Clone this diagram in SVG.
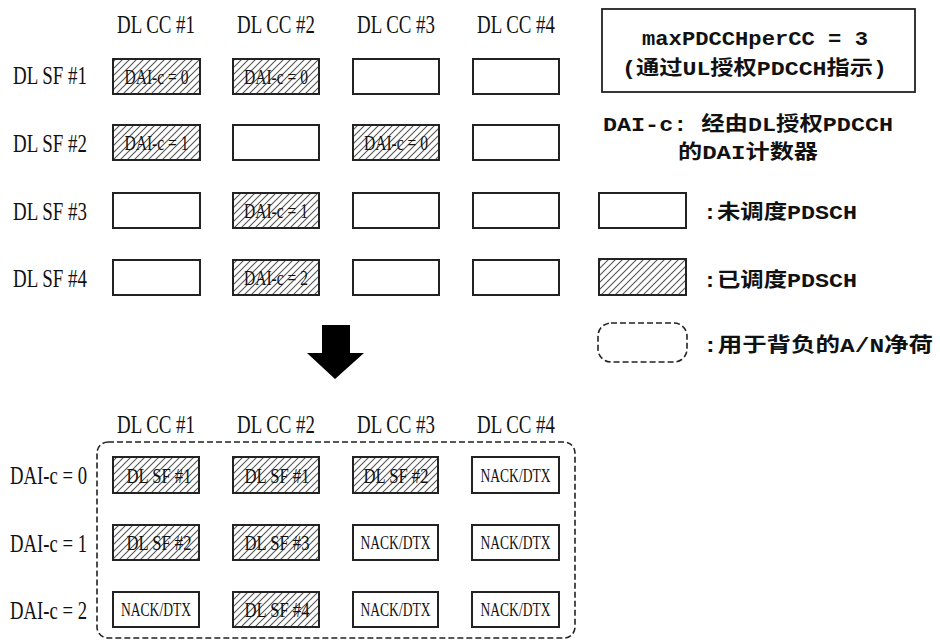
<svg xmlns="http://www.w3.org/2000/svg" width="940" height="641" viewBox="0 0 940 641">
<defs>
<pattern id="hatch" patternUnits="userSpaceOnUse" width="7" height="7">
<path d="M-1,1 l2,-2 M0,7 l7,-7 M6,8 l2,-2" stroke="#555" stroke-width="1.1"/>
</pattern>
</defs>
<style>
.lbl{font-family:"Liberation Serif","Times New Roman",serif;font-size:25px;fill:#111}
.in{font-family:"Liberation Serif","Times New Roman",serif;font-size:22px;fill:#111;text-anchor:middle}
.nk{font-family:"Liberation Serif","Times New Roman",serif;font-size:19px;fill:#111;text-anchor:middle}
.cjk{font-family:"Liberation Mono","Noto Sans CJK SC",monospace;font-size:20px;font-weight:bold;fill:#111}
.box{fill:#fff;stroke:#222;stroke-width:2}
.hb{fill:url(#hatch);stroke:#222;stroke-width:2}
.dash{fill:none;stroke:#222;stroke-width:1.6;stroke-dasharray:6 3}
</style>
<rect width="940" height="641" fill="#fff"/>

<!-- top headers -->
<g id="top-headers">
<text class="lbl" x="117" y="33" textLength="78" lengthAdjust="spacingAndGlyphs">DL CC #1</text>
<text class="lbl" x="237" y="33" textLength="78" lengthAdjust="spacingAndGlyphs">DL CC #2</text>
<text class="lbl" x="357" y="33" textLength="78" lengthAdjust="spacingAndGlyphs">DL CC #3</text>
<text class="lbl" x="477" y="33" textLength="78" lengthAdjust="spacingAndGlyphs">DL CC #4</text>
<text class="lbl" x="13" y="84" textLength="74" lengthAdjust="spacingAndGlyphs">DL SF #1</text>
<text class="lbl" x="13" y="152" textLength="74" lengthAdjust="spacingAndGlyphs">DL SF #2</text>
<text class="lbl" x="13" y="220" textLength="74" lengthAdjust="spacingAndGlyphs">DL SF #3</text>
<text class="lbl" x="13" y="287" textLength="74" lengthAdjust="spacingAndGlyphs">DL SF #4</text>
</g>

<!-- top grid -->
<g id="sf1-cc1"><rect class="hb" x="113" y="59" width="87" height="35"/><text class="in" x="156.5" y="84" textLength="64" lengthAdjust="spacingAndGlyphs">DAI-c = 0</text></g>
<g id="sf1-cc2"><rect class="hb" x="233" y="59" width="86" height="35"/><text class="in" x="276" y="84" textLength="64" lengthAdjust="spacingAndGlyphs">DAI-c = 0</text></g>
<g id="sf1-cc3"><rect class="box" x="353" y="59" width="86" height="35"/></g>
<g id="sf1-cc4"><rect class="box" x="473" y="59" width="86" height="35"/></g>

<g id="sf2-cc1"><rect class="hb" x="113" y="125" width="87" height="35"/><text class="in" x="156.5" y="150" textLength="64" lengthAdjust="spacingAndGlyphs">DAI-c = 1</text></g>
<g id="sf2-cc2"><rect class="box" x="233" y="125" width="86" height="35"/></g>
<g id="sf2-cc3"><rect class="hb" x="353" y="125" width="86" height="35"/><text class="in" x="396" y="150" textLength="64" lengthAdjust="spacingAndGlyphs">DAI-c = 0</text></g>
<g id="sf2-cc4"><rect class="box" x="473" y="125" width="86" height="35"/></g>

<g id="sf3-cc1"><rect class="box" x="113" y="193" width="87" height="35"/></g>
<g id="sf3-cc2"><rect class="hb" x="233" y="193" width="86" height="35"/><text class="in" x="276" y="218" textLength="64" lengthAdjust="spacingAndGlyphs">DAI-c = 1</text></g>
<g id="sf3-cc3"><rect class="box" x="353" y="193" width="86" height="35"/></g>
<g id="sf3-cc4"><rect class="box" x="473" y="193" width="86" height="35"/></g>

<g id="sf4-cc1"><rect class="box" x="113" y="260" width="87" height="35"/></g>
<g id="sf4-cc2"><rect class="hb" x="233" y="260" width="86" height="35"/><text class="in" x="276" y="285" textLength="64" lengthAdjust="spacingAndGlyphs">DAI-c = 2</text></g>
<g id="sf4-cc3"><rect class="box" x="353" y="260" width="86" height="35"/></g>
<g id="sf4-cc4"><rect class="box" x="473" y="260" width="86" height="35"/></g>

<!-- info box -->
<g id="info-box">
<rect x="602" y="9" width="313" height="83" fill="#fff" stroke="#222" stroke-width="1.8"/>
<text class="cjk" x="642" y="45" font-size="22" textLength="226" lengthAdjust="spacingAndGlyphs">maxPDCCHperCC = 3</text>
<text class="cjk" x="622" y="75" textLength="265" lengthAdjust="spacingAndGlyphs">(通过UL授权PDCCH指示)</text>
</g>
<g id="dai-note">
<text class="cjk" x="603" y="131" textLength="290" lengthAdjust="spacingAndGlyphs">DAI-c: 经由DL授权PDCCH</text>
<text class="cjk" x="678" y="159" textLength="140" lengthAdjust="spacingAndGlyphs">的DAI计数器</text>
</g>

<!-- legend -->
<g id="legend-unscheduled"><rect class="box" x="599" y="193" width="87" height="35"/><text class="cjk" x="703" y="219" textLength="154" lengthAdjust="spacingAndGlyphs">:未调度PDSCH</text></g>
<g id="legend-scheduled"><rect class="hb" x="599" y="259" width="87" height="36"/><text class="cjk" x="703" y="287" textLength="154" lengthAdjust="spacingAndGlyphs">:已调度PDSCH</text></g>
<g id="legend-payload"><rect class="dash" x="598" y="323" width="89" height="39" rx="13"/><text class="cjk" x="703" y="352" textLength="230" lengthAdjust="spacingAndGlyphs">:用于背负的A/N净荷</text></g>

<!-- connectors -->
<g id="connectors">
<path d="M322,325 H350 V353 H364 L335,379 L307,353 H322 Z" fill="#000"/>
</g>

<!-- bottom -->
<g id="bottom-headers">
<text class="lbl" x="117" y="433" textLength="78" lengthAdjust="spacingAndGlyphs">DL CC #1</text>
<text class="lbl" x="237" y="433" textLength="78" lengthAdjust="spacingAndGlyphs">DL CC #2</text>
<text class="lbl" x="357" y="433" textLength="78" lengthAdjust="spacingAndGlyphs">DL CC #3</text>
<text class="lbl" x="477" y="433" textLength="78" lengthAdjust="spacingAndGlyphs">DL CC #4</text>
<text class="lbl" x="10" y="484" textLength="77" lengthAdjust="spacingAndGlyphs">DAI-c = 0</text>
<text class="lbl" x="10" y="552" textLength="77" lengthAdjust="spacingAndGlyphs">DAI-c = 1</text>
<text class="lbl" x="10" y="619" textLength="77" lengthAdjust="spacingAndGlyphs">DAI-c = 2</text>
</g>

<g id="payload-container"><rect class="dash" x="97" y="442" width="478" height="196" rx="11"/></g>

<g id="d0-cc1"><rect class="hb" x="113" y="457" width="86" height="36"/><text class="in" x="159" y="483" textLength="65" lengthAdjust="spacingAndGlyphs">DL SF #1</text></g>
<g id="d0-cc2"><rect class="hb" x="233" y="457" width="86" height="36"/><text class="in" x="277" y="483" textLength="65" lengthAdjust="spacingAndGlyphs">DL SF #1</text></g>
<g id="d0-cc3"><rect class="hb" x="353" y="457" width="85" height="36"/><text class="in" x="396" y="483" textLength="65" lengthAdjust="spacingAndGlyphs">DL SF #2</text></g>
<g id="d0-cc4"><rect class="box" x="472" y="457" width="87" height="36"/><text class="nk" x="515.5" y="482" textLength="70" lengthAdjust="spacingAndGlyphs">NACK/DTX</text></g>

<g id="d1-cc1"><rect class="hb" x="113" y="525" width="86" height="35"/><text class="in" x="159" y="550" textLength="65" lengthAdjust="spacingAndGlyphs">DL SF #2</text></g>
<g id="d1-cc2"><rect class="hb" x="233" y="525" width="86" height="35"/><text class="in" x="277" y="550" textLength="65" lengthAdjust="spacingAndGlyphs">DL SF #3</text></g>
<g id="d1-cc3"><rect class="box" x="353" y="525" width="85" height="35"/><text class="nk" x="395.5" y="549" textLength="70" lengthAdjust="spacingAndGlyphs">NACK/DTX</text></g>
<g id="d1-cc4"><rect class="box" x="472" y="525" width="87" height="35"/><text class="nk" x="515.5" y="549" textLength="70" lengthAdjust="spacingAndGlyphs">NACK/DTX</text></g>

<g id="d2-cc1"><rect class="box" x="113" y="592" width="86" height="35"/><text class="nk" x="156" y="616" textLength="70" lengthAdjust="spacingAndGlyphs">NACK/DTX</text></g>
<g id="d2-cc2"><rect class="hb" x="233" y="592" width="86" height="35"/><text class="in" x="277" y="617" textLength="65" lengthAdjust="spacingAndGlyphs">DL SF #4</text></g>
<g id="d2-cc3"><rect class="box" x="353" y="592" width="85" height="35"/><text class="nk" x="395.5" y="616" textLength="70" lengthAdjust="spacingAndGlyphs">NACK/DTX</text></g>
<g id="d2-cc4"><rect class="box" x="472" y="592" width="87" height="35"/><text class="nk" x="515.5" y="616" textLength="70" lengthAdjust="spacingAndGlyphs">NACK/DTX</text></g>
</svg>
